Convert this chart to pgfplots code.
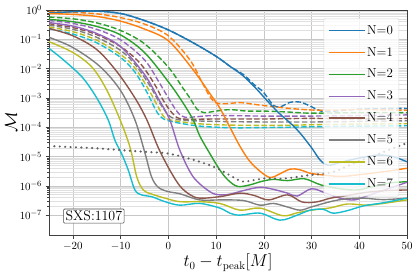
\documentclass[border=0pt]{standalone}
\usepackage{pgfplots}
\pgfplotsset{compat=1.18}
\definecolor{c0}{HTML}{1F77B4}
\definecolor{c1}{HTML}{FF7F0E}
\definecolor{c2}{HTML}{2CA02C}
\definecolor{c3}{HTML}{9467BD}
\definecolor{c4}{HTML}{8C564B}
\definecolor{c5}{HTML}{7F7F7F}
\definecolor{c6}{HTML}{BCBD22}
\definecolor{c7}{HTML}{17BECF}
\begin{document}
\begin{tikzpicture}
\begin{axis}[
  scale only axis, width=358bp, height=225bp,
  xmin=-25, xmax=50, ymode=log, ymin=2.1e-8, ymax=1,
  xtick={-20,-10,0,10,20,30,40,50},
  ytick={1e-7,1e-6,1e-5,1e-4,1e-3,1e-2,1e-1,1},
  grid=both,
  major grid style={black!22, line width=0.6pt},
  minor grid style={black!12, line width=0.4pt},
  axis line style={black!75, line width=0.7pt},
  tick align=outside, tick pos=left,
  major tick length=3.5bp, minor tick length=2bp,
  every tick/.style={black!75, line width=0.6pt},
  tick label style={font=\fontsize{11}{13}\selectfont},
  xlabel={$t_0 - t_{\rm peak}[M]$},
  ylabel={$\mathcal{M}$},
  xlabel style={font=\fontsize{16}{18}\selectfont, yshift=3bp},
  ylabel style={font=\fontsize{16}{18}\selectfont, yshift=-4bp},
  legend style={at={(0.978,0.964)}, anchor=north east, draw=black!15,
    fill=white, fill opacity=0.8, text opacity=1, draw opacity=1,
    rounded corners=2pt, font=\fontsize{13}{15}\selectfont,
    row sep=7.6bp, inner xsep=4bp, inner ysep=5bp},
  legend cell align=left,
  legend image code/.code={\draw[#1] (0bp,0bp) -- (30bp,0bp); \path (0bp,0bp) -- (36bp,0bp);},
  every axis plot/.append style={line width=1.4pt, smooth, tension=0.55},
  dash/.style={dash pattern=on 5.5bp off 2.4bp},
]
% ---------- dashed ----------
\addplot[c0, dash, forget plot] coordinates {(-25,0.794) (-20,0.871) (-15,0.912) (-10,0.759) (-5,0.437) (0,0.209) (5,7.94e-2) (10,2.63e-2) (13,1.17e-2) (15.7,6.31e-3) (18,2.82e-3) (19.9,1.58e-3) (22,5.62e-4) (23.5,5.01e-4) (25.5,7.08e-4) (27.6,7.24e-4) (30,5.01e-4) (32,3.55e-4) (35,3.55e-4) (40,4.17e-4) (45,4.37e-4) (50,4.37e-4)};
\addplot[c1, dash, forget plot] coordinates {(-25,0.871) (-20,0.832) (-15,0.741) (-10,0.550) (-5,0.331) (0,0.132) (4.5,2.0e-2) (7,3.55e-3) (8.7,1.12e-3) (10,6.76e-4) (12,6.31e-4) (15,6.92e-4) (18,6.03e-4) (22,5.01e-4) (27,4.17e-4) (32,3.80e-4) (40,3.98e-4) (50,3.80e-4)};
\addplot[c2, dash, forget plot] coordinates {(-25,0.575) (-20,0.501) (-15,0.363) (-10,0.200) (-5,7.08e-2) (0,1.12e-2) (3,2.24e-3) (4.5,1.0e-3) (6,4.17e-4) (7.5,3.16e-4) (10,3.55e-4) (13,3.98e-4) (16.5,3.55e-4) (20,3.55e-4) (25,3.31e-4) (30,3.02e-4) (40,3.16e-4) (50,3.16e-4)};
\addplot[c3, dash, forget plot] coordinates {(-25,0.437) (-20,0.347) (-15,0.219) (-10,9.55e-2) (-5,2.0e-2) (-2,3.55e-3) (0,1.0e-3) (2,3.16e-4) (3.5,2.19e-4) (6,2.29e-4) (10,2.51e-4) (20,2.40e-4) (30,2.40e-4) (40,2.51e-4) (50,2.63e-4)};
\addplot[c4, dash, forget plot] coordinates {(-25,0.339) (-20,0.251) (-15,0.145) (-10,5.62e-2) (-6,1.58e-2) (-3,3.16e-3) (-1,7.94e-4) (1,2.82e-4) (3,1.91e-4) (10,1.91e-4) (20,1.91e-4) (30,2.0e-4) (40,1.91e-4) (50,2.0e-4)};
\addplot[c5, dash, forget plot] coordinates {(-25,0.302) (-20,0.219) (-15,0.117) (-10,4.17e-2) (-7,1.41e-2) (-4,2.82e-3) (-1.5,5.62e-4) (0.5,2.24e-4) (3,1.74e-4) (10,1.58e-4) (20,1.51e-4) (30,1.51e-4) (40,1.58e-4) (50,1.66e-4)};
\addplot[c6, dash, forget plot] coordinates {(-25,0.263) (-20,0.182) (-15,9.33e-2) (-10,3.02e-2) (-7,1.05e-2) (-4,1.78e-3) (-2,4.47e-4) (-0.5,2.0e-4) (3,1.51e-4) (8,1.26e-4) (15,1.17e-4) (25,1.17e-4) (35,1.26e-4) (50,1.32e-4)};
\addplot[c7, dash, forget plot] coordinates {(-25,0.229) (-20,0.151) (-15,7.59e-2) (-10,2.40e-2) (-7,7.59e-3) (-4.5,1.58e-3) (-2.5,3.55e-4) (-1,1.91e-4) (2,1.41e-4) (6,1.12e-4) (10,1.0e-4) (15,9.55e-5) (25,1.0e-4) (35,1.07e-4) (50,1.12e-4)};
% ---------- solid ----------
\addplot[c0] coordinates {(-25,0.794) (-20,0.871) (-15,0.912) (-10,0.759) (-5,0.437) (0,0.209) (5,7.94e-2) (10,2.63e-2) (13,1.17e-2) (15.7,5.62e-3) (18.5,2.0e-3) (21,7.08e-4) (23.4,2.82e-4) (25.5,1.41e-4) (27.6,6.31e-5) (30,2.0e-5) (31.8,7.59e-6) (33.5,5.01e-6) (36,6.31e-6) (40,8.91e-6) (44,1.12e-5) (47,1.0e-5) (50,6.61e-6)};
\addlegendentry{N=0}
\addplot[c1] coordinates {(-25,0.759) (-20,0.708) (-15,0.603) (-10,0.417) (-5,0.224) (0,8.91e-2) (5,1.0e-2) (8.7,1.41e-3) (10.8,4.47e-4) (12.9,1.0e-4) (15,2.24e-5) (17,7.08e-6) (19.2,3.16e-6) (21.3,1.91e-6) (23,2.40e-6) (25.5,3.72e-6) (27.5,3.55e-6) (29.7,2.69e-6) (32,2.40e-6) (36,2.09e-6) (40,2.40e-6) (45,3.02e-6) (50,3.98e-6)};
\addlegendentry{N=1}
\addplot[c2] coordinates {(-25,0.479) (-20,0.398) (-15,0.275) (-10,0.141) (-5,3.55e-2) (0,3.55e-3) (3,7.08e-4) (5.2,1.78e-4) (6.6,5.01e-5) (8.7,1.26e-5) (10.8,3.47e-6) (12.5,1.58e-6) (14.5,9.55e-7) (17,1.07e-6) (19.5,1.41e-6) (22,1.66e-6) (25,1.51e-6) (28.5,1.74e-6) (32,1.07e-6) (36,7.94e-7) (39.5,7.24e-7) (43,9.55e-7) (46.5,1.26e-6) (50,1.38e-6)};
\addlegendentry{N=2}
\addplot[c3] coordinates {(-25,0.372) (-20,0.282) (-15,0.158) (-10,5.62e-2) (-5,6.31e-3) (-2,8.91e-4) (0.3,1.78e-4) (2.4,1.66e-5) (5.2,2.04e-6) (8.7,6.31e-7) (10.8,4.90e-7) (13,5.25e-7) (16,7.08e-7) (19.2,8.91e-7) (22,7.59e-7) (25,5.62e-7) (27,4.47e-7) (30,7.94e-7) (33,5.62e-7) (36,3.80e-7) (39,3.31e-7) (42,4.79e-7) (46,7.94e-7) (50,1.32e-6)};
\addlegendentry{N=3}
\addplot[c4] coordinates {(-25,0.234) (-20,0.132) (-15,4.47e-2) (-10.8,7.94e-3) (-7,1.0e-3) (-4.5,1.78e-4) (-2.1,2.0e-5) (0.3,3.47e-6) (2.4,1.0e-6) (4.5,5.01e-7) (6.6,3.80e-7) (10.8,4.27e-7) (15,5.62e-7) (18,4.68e-7) (21,3.31e-7) (25,4.90e-7) (28,2.82e-7) (31,2.82e-7) (34,3.80e-7) (37.5,4.68e-7) (41.6,6.03e-7) (46,6.92e-7) (50,7.24e-7)};
\addlegendentry{N=4}
\addplot[c5] coordinates {(-25,0.117) (-20,5.25e-2) (-14.3,1.17e-2) (-10,1.78e-3) (-7,1.78e-4) (-4.9,1.32e-5) (-3.5,2.0e-6) (-2.1,8.91e-7) (0,6.31e-7) (2.4,5.37e-7) (6.6,3.31e-7) (10.8,3.31e-7) (15.7,3.16e-7) (19.2,2.19e-7) (22,2.51e-7) (24.9,1.91e-7) (27.6,1.48e-7) (30,1.91e-7) (33.9,2.88e-7) (37,3.55e-7) (40.8,3.80e-7) (45,3.39e-7) (50,3.80e-7)};
\addlegendentry{N=5}
\addplot[c6] coordinates {(-25,8.32e-2) (-20,3.55e-2) (-16,1.12e-2) (-13,2.0e-3) (-10.1,1.78e-4) (-8,2.0e-5) (-6.6,2.0e-6) (-5.2,7.08e-7) (-3.5,5.25e-7) (-0.7,3.80e-7) (2.4,2.88e-7) (6.6,2.88e-7) (10.8,2.51e-7) (15,1.48e-7) (19.2,1.74e-7) (24,9.55e-8) (27,1.20e-7) (30,1.48e-7) (34,1.78e-7) (37.5,2.40e-7) (41.6,2.19e-7) (45,2.51e-7) (50,3.31e-7)};
\addlegendentry{N=6}
\addplot[c7] coordinates {(-25,4.90e-2) (-22,2.0e-2) (-18,5.01e-3) (-15,1.0e-3) (-12.6,1.78e-4) (-11.2,3.63e-5) (-9.8,1.26e-5) (-8.4,3.47e-6) (-7,7.24e-7) (-5.6,4.90e-7) (-3.5,4.27e-7) (-0.7,2.88e-7) (2.4,2.19e-7) (6.6,2.51e-7) (10.8,1.74e-7) (12.9,1.17e-7) (15,1.0e-7) (19.2,1.17e-7) (23.4,6.76e-8) (27,1.0e-7) (29.7,1.48e-7) (32.4,1.58e-7) (34.5,1.17e-7) (37.4,1.41e-7) (41,2.09e-7) (45,2.63e-7) (50,3.80e-7)};
\addlegendentry{N=7}
% ---------- dotted ----------
\addplot[black!62, forget plot, line width=2.4pt, line cap=round, dash pattern=on 0pt off 5.4bp] coordinates {(-25,2.29e-5) (-20,2.09e-5) (-15,1.91e-5) (-10,1.66e-5) (-5,1.45e-5) (0,1.26e-5) (5,7.94e-6) (8.7,5.01e-6) (10.8,3.55e-6) (13,2.24e-6) (15.5,1.41e-6) (18,1.58e-6) (20.6,1.82e-6) (23.5,1.74e-6) (26,1.91e-6) (29.7,2.34e-6) (32,2.51e-6) (35,3.16e-6) (40,7.08e-6) (45,1.41e-5) (49,2.51e-5) (50,2.82e-5)};
\node[draw=black!70, fill=white, line width=0.7pt, rounded corners=1pt, inner sep=2pt, font=\fontsize{14}{16}\selectfont] at (axis cs:-15.6,9.3e-8) {SXS:1107};
\end{axis}
\pgfresetboundingbox
\path[use as bounding box] ([xshift=-49bp,yshift=-42bp]current axis.south west) rectangle ([xshift=8bp,yshift=10bp]current axis.north east);
\end{tikzpicture}
\end{document}
